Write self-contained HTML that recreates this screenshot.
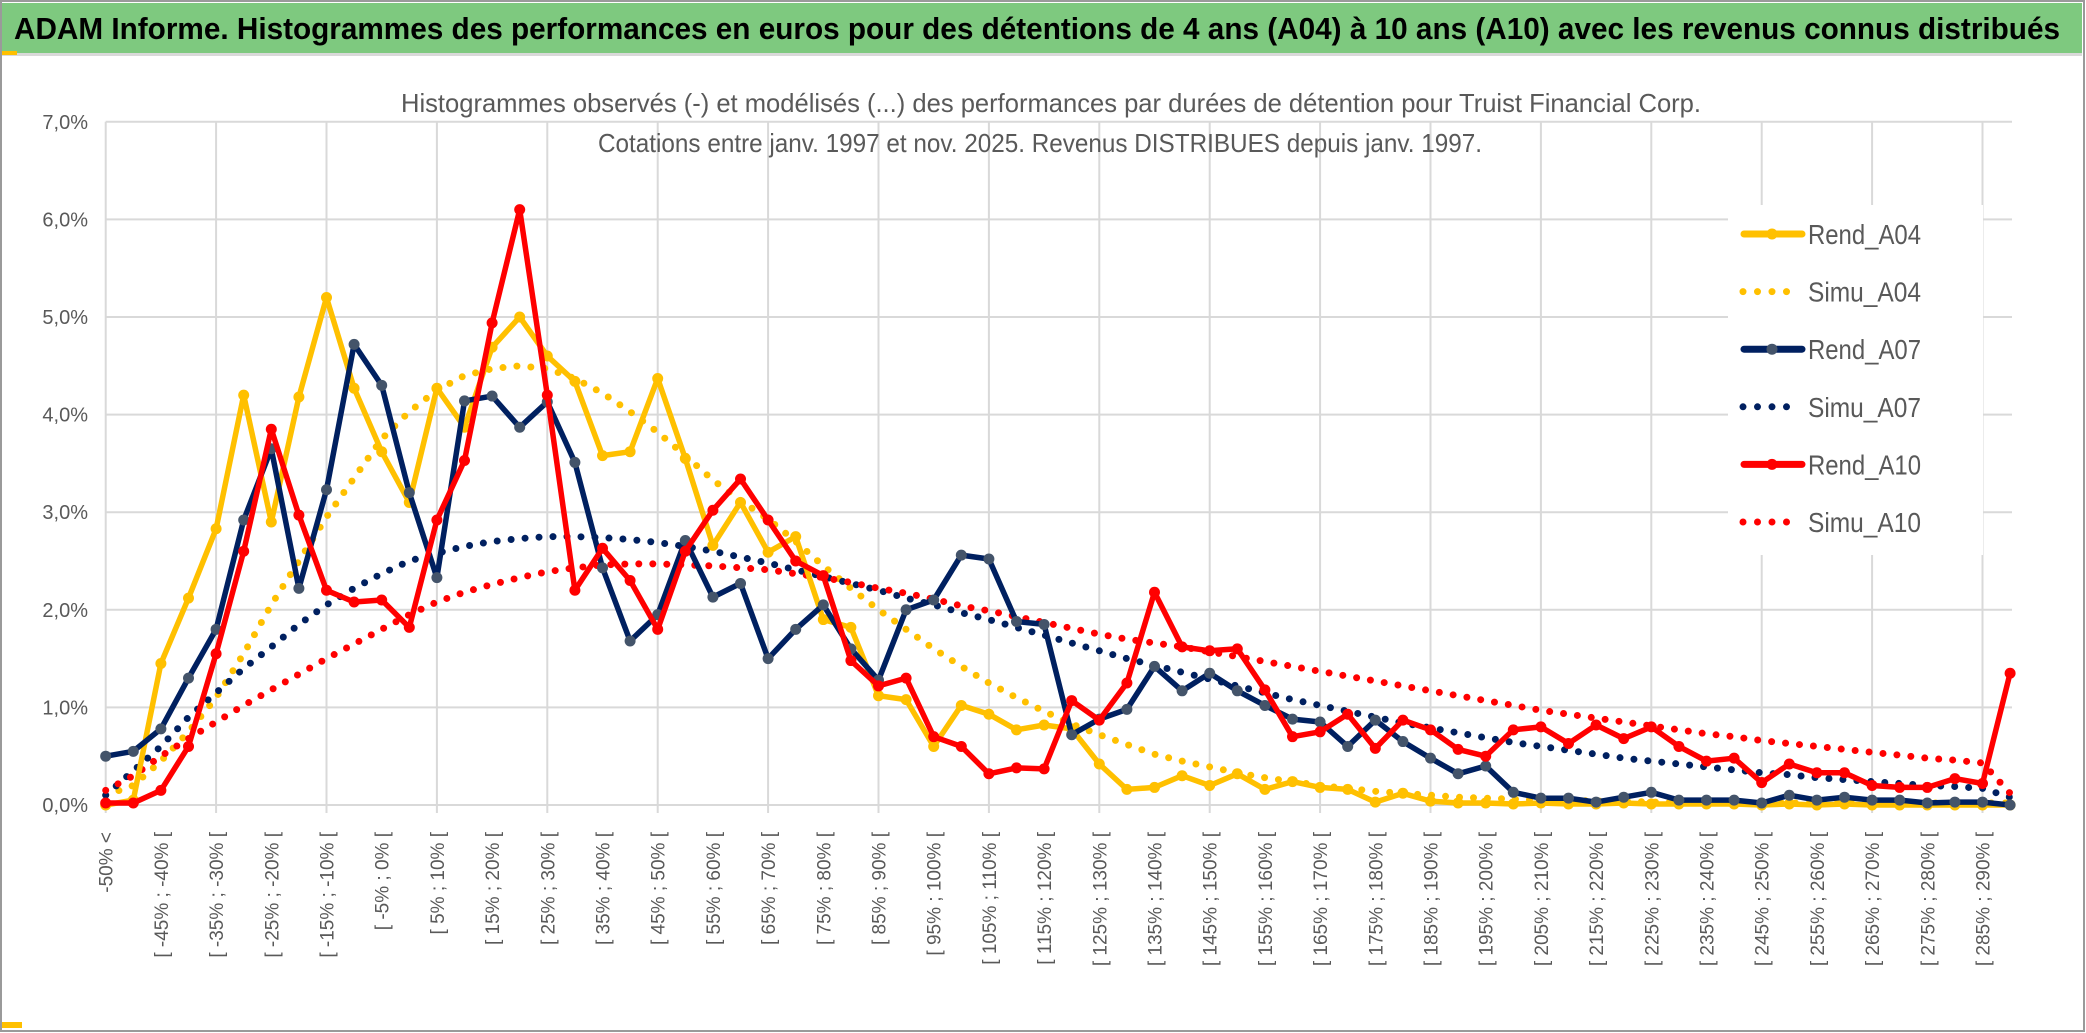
<!DOCTYPE html>
<html><head><meta charset="utf-8"><style>
html,body{margin:0;padding:0;background:#fff;}
svg{display:block;font-family:"Liberation Sans",sans-serif;}
</style></head><body>
<svg id="chart" width="2086" height="1033" viewBox="0 0 2086 1033" xmlns="http://www.w3.org/2000/svg">
<rect x="0" y="0" width="2086" height="1033" fill="#fff"/>
<rect x="1" y="1" width="2083" height="1030" fill="none" stroke="#9a9a9a" stroke-width="2"/>
<rect x="2" y="3" width="2080" height="50" fill="#7ec97f"/>
<rect x="2" y="53" width="2080" height="3" fill="#d9d9d9"/>
<rect x="2" y="51" width="15" height="4" fill="#ffc000"/>
<rect x="2" y="1022" width="20" height="6" fill="#ffc000"/>
<text x="14" y="39" font-size="31" font-weight="bold" fill="#000" textLength="2046" lengthAdjust="spacingAndGlyphs">ADAM Informe. Histogrammes des performances en euros pour des détentions de 4 ans (A04) à 10 ans (A10) avec les revenus connus distribués</text>
<g id="grid"></g>
<text x="1051" y="112" font-size="26" fill="#595959" text-anchor="middle" textLength="1300" lengthAdjust="spacingAndGlyphs">Histogrammes observés (-) et modélisés (...) des performances par durées de détention pour Truist Financial Corp.</text>
<text x="1040" y="152" font-size="26" fill="#595959" text-anchor="middle" textLength="884" lengthAdjust="spacingAndGlyphs">Cotations entre janv. 1997 et nov. 2025. Revenus DISTRIBUES depuis janv. 1997.</text>
<g id="yaxis"></g>
<g id="xaxis"></g>
<g id="series"></g>
<g id="legend"></g>
</svg>
<script>
const yTicks = [0,1,2,3,4,5,6,7];
const yTickLabels = ["0,0%","1,0%","2,0%","3,0%","4,0%","5,0%","6,0%","7,0%"];
const rendA04 = [0.0,0.05,1.45,2.12,2.83,4.2,2.9,4.18,5.2,4.27,3.62,3.1,4.27,3.87,4.69,5.0,4.6,4.34,3.58,3.62,4.37,3.55,2.66,3.1,2.59,2.75,1.9,1.82,1.12,1.08,0.6,1.02,0.93,0.77,0.82,0.78,0.42,0.16,0.18,0.3,0.2,0.32,0.16,0.24,0.18,0.16,0.03,0.12,0.04,0.02,0.02,0.01,0.02,0.01,0.01,0.02,0.01,0.01,0.01,0.01,0.0,0.01,0.0,0.01,0.0,0.0,0.0,0.0,0.0,0.0];
const simuA04 = [0.1,0.2,0.45,0.75,1.1,1.55,2.05,2.5,2.95,3.35,3.75,4.03,4.25,4.4,4.47,4.5,4.47,4.37,4.22,4.03,3.82,3.58,3.33,3.12,2.93,2.7,2.45,2.22,2.0,1.8,1.6,1.42,1.25,1.1,0.96,0.83,0.72,0.62,0.52,0.45,0.39,0.33,0.28,0.24,0.2,0.17,0.14,0.12,0.1,0.08,0.07,0.06,0.05,0.05,0.04,0.04,0.03,0.03,0.03,0.02,0.02,0.02,0.02,0.02,0.02,0.02,0.02,0.02,0.02,0.02];
const rendA07 = [0.5,0.55,0.78,1.3,1.8,2.92,3.65,2.22,3.23,4.72,4.3,3.2,2.33,4.14,4.19,3.87,4.13,3.51,2.43,1.68,1.95,2.71,2.13,2.27,1.5,1.8,2.05,1.6,1.28,2.0,2.1,2.56,2.52,1.88,1.85,0.72,0.88,0.98,1.42,1.17,1.35,1.17,1.02,0.88,0.85,0.6,0.87,0.65,0.48,0.32,0.4,0.13,0.07,0.07,0.03,0.08,0.13,0.05,0.05,0.05,0.02,0.1,0.05,0.08,0.05,0.05,0.02,0.03,0.03,0.0];
const simuA07 = [0.1,0.35,0.6,0.9,1.15,1.4,1.62,1.85,2.05,2.22,2.37,2.5,2.58,2.65,2.7,2.73,2.75,2.75,2.74,2.72,2.69,2.65,2.6,2.54,2.48,2.41,2.34,2.27,2.2,2.12,2.05,1.97,1.9,1.82,1.74,1.66,1.58,1.5,1.43,1.36,1.29,1.22,1.15,1.08,1.02,0.96,0.9,0.84,0.79,0.74,0.69,0.64,0.6,0.56,0.52,0.48,0.45,0.42,0.39,0.36,0.33,0.31,0.28,0.26,0.24,0.22,0.2,0.19,0.17,0.08];
const rendA10 = [0.02,0.02,0.15,0.6,1.55,2.6,3.85,2.97,2.2,2.08,2.1,1.82,2.92,3.53,4.94,6.1,4.2,2.2,2.63,2.3,1.8,2.6,3.02,3.34,2.92,2.5,2.35,1.48,1.22,1.3,0.7,0.6,0.32,0.38,0.37,1.07,0.87,1.25,2.18,1.62,1.58,1.6,1.18,0.7,0.75,0.93,0.58,0.87,0.77,0.57,0.5,0.77,0.8,0.63,0.82,0.68,0.8,0.6,0.45,0.48,0.23,0.42,0.33,0.33,0.2,0.18,0.18,0.27,0.22,1.35];
const simuA10 = [0.15,0.3,0.5,0.68,0.85,1.02,1.18,1.34,1.5,1.65,1.8,1.95,2.08,2.18,2.26,2.33,2.39,2.43,2.46,2.47,2.47,2.46,2.45,2.43,2.41,2.37,2.33,2.28,2.22,2.17,2.11,2.04,1.99,1.93,1.87,1.81,1.75,1.7,1.66,1.62,1.57,1.52,1.47,1.42,1.37,1.32,1.27,1.22,1.17,1.12,1.07,1.02,0.97,0.93,0.89,0.85,0.81,0.77,0.73,0.7,0.66,0.63,0.6,0.57,0.54,0.51,0.48,0.46,0.43,0.12];
const categories = ["-50% <"];
for (let lo = -50; lo < 290; lo += 5) categories.push("[ " + lo + "% ; " + (lo + 5) + "% [");
categories.push("> 290%");

const NS = "http://www.w3.org/2000/svg";
const X0 = 105.7, DX = 27.6, Y0 = 805, DY = 97.6, XR = 2012;
const xs = i => X0 + i * DX;
const ys = v => Y0 - v * DY;
function mk(tag, attrs, parent) {
  const e = document.createElementNS(NS, tag);
  for (const k in attrs) e.setAttribute(k, attrs[k]);
  parent.appendChild(e);
  return e;
}
const grid = document.getElementById('grid');
yTicks.forEach(t => {
  const l = mk('line', {x1: X0, x2: XR, y1: ys(t), y2: ys(t), stroke: '#d9d9d9', 'stroke-width': 2}, grid);
  
  
});
for (let i = 0; i < categories.length; i += 4) {
  const l = mk('line', {x1: xs(i), x2: xs(i), y1: ys(7), y2: Y0 + 8, stroke: '#d9d9d9', 'stroke-width': 2}, grid);
  
  
}
const yax = document.getElementById('yaxis');
yTicks.forEach((t, k) => {
  const tx = mk('text', {x: 88, y: ys(t) + 7, 'font-size': 20, fill: '#595959', 'text-anchor': 'end'}, yax);
  tx.textContent = yTickLabels[k];
  
  
});
const xax = document.getElementById('xaxis');
for (let i = 0; i < categories.length - 1; i++) {
  if (i !== 0 && i % 2 !== 0) continue;
  const x = xs(i) + 7, y = 832;
  const tx = mk('text', {x: x, y: y, 'font-size': 19, fill: '#595959', 'text-anchor': 'end', transform: 'rotate(-90 ' + x + ' ' + y + ')'}, xax);
  tx.textContent = categories[i];
  
  
}
const ser = document.getElementById('series');
function pts(arr) { return arr.map((v, i) => xs(i).toFixed(1) + ',' + ys(v).toFixed(1)).join(' '); }
function simu(arr, color, name) {
  const p = mk('polyline', {points: pts(arr), fill: 'none', stroke: color, 'stroke-width': 7, 'stroke-linecap': 'round', 'stroke-dasharray': '0 14'}, ser);
  
  
}
function rend(arr, color, mcolor, name) {
  const g = mk('g', {}, ser);
  
  
  mk('polyline', {points: pts(arr), fill: 'none', stroke: color, 'stroke-width': 5.5, 'stroke-linejoin': 'round'}, g);
  arr.forEach((v, i) => {
    const c = mk('circle', {cx: xs(i), cy: ys(v), r: 5.5, fill: mcolor}, g);
    
    
  });
}
simu(simuA04, '#ffc000', 'simu-a04-line');
simu(simuA07, '#002060', 'simu-a07-line');
simu(simuA10, '#ff0000', 'simu-a10-line');
rend(rendA04, '#ffc000', '#ffc000', 'rend-a04-line');
rend(rendA07, '#002060', '#44546a', 'rend-a07-line');
rend(rendA10, '#ff0000', '#ff0000', 'rend-a10-line');

const leg = document.getElementById('legend');
const lbg = mk('rect', {x: 1728, y: 205, width: 255, height: 350, fill: '#fff'}, leg);


const entries = [
  ['Rend_A04', '#ffc000', '#ffc000', false],
  ['Simu_A04', '#ffc000', '#ffc000', true],
  ['Rend_A07', '#002060', '#44546a', false],
  ['Simu_A07', '#002060', '#002060', true],
  ['Rend_A10', '#ff0000', '#ff0000', false],
  ['Simu_A10', '#ff0000', '#ff0000', true]
];
entries.forEach((e, k) => {
  const y = 234 + k * 57.6;
  const g = mk('g', {}, leg);
  
  
  if (e[3]) {
    mk('line', {x1: 1743, x2: 1797, y1: y, y2: y, stroke: e[1], 'stroke-width': 7, 'stroke-linecap': 'round', 'stroke-dasharray': '0 14.5'}, g);
  } else {
    mk('line', {x1: 1744, x2: 1802, y1: y, y2: y, stroke: e[1], 'stroke-width': 7, 'stroke-linecap': 'round'}, g);
    mk('circle', {cx: 1772, cy: y, r: 5.5, fill: e[2]}, g);
  }
  const t = mk('text', {x: 1808, y: y + 10, 'font-size': 28, fill: '#595959', textLength: 113, lengthAdjust: 'spacingAndGlyphs'}, g);
  t.textContent = e[0];
  
  
});
</script>
</body></html>
